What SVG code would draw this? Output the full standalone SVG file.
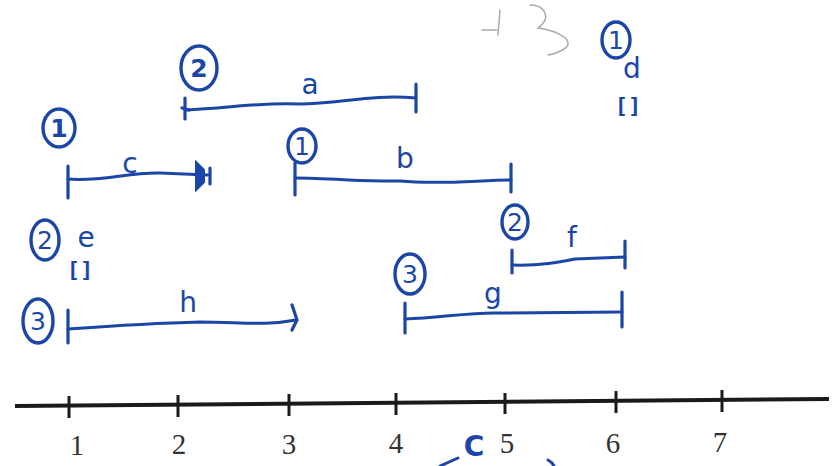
<svg xmlns="http://www.w3.org/2000/svg" width="833" height="466" viewBox="0 0 833 466">
<style>
.ink{fill:none;stroke:#1b45a6;stroke-width:3;stroke-linecap:round;stroke-linejoin:round}
.tk{fill:none;stroke:#1b45a6;stroke-width:3.2;stroke-linecap:round}
.circ{fill:none;stroke:#1b45a6;stroke-width:3.4}
.num{font-family:"DejaVu Sans",sans-serif;font-size:25px;fill:#1b45a6;text-anchor:middle}
.lbl{font-family:"DejaVu Sans",sans-serif;font-size:28px;fill:#1b45a6;text-anchor:middle}
.br{font-family:"DejaVu Sans Mono",monospace;font-size:22px;font-weight:bold;fill:#1b45a6;text-anchor:middle}
.ax{font-family:"Liberation Serif",serif;font-size:29px;fill:#333;text-anchor:middle}
.axis{fill:none;stroke:#1a1a1a;stroke-width:4}
.axt{fill:none;stroke:#1a1a1a;stroke-width:3}
.faint{fill:none;stroke:#aaa;stroke-width:1.5;stroke-linecap:round}
</style>
<rect width="833" height="466" fill="#fff"/>
<g id="scribble">
<path class="faint" d="M500,10 L498,35 M482,30 L497,30"/>
<path class="faint" d="M530,5 C545,5 552,18 538,28 C555,30 570,38 568,45 C565,50 555,54 548,55"/>
</g>
<g id="axis">
<path class="axis" d="M15,406 L829,399"/>
<path class="axt" d="M69,396 V418 M178,395 V417 M289,394 V416 M396,393 V415 M505,393 V414 M616,391 V413 M722,390 V412"/>
<text class="ax" x="77" y="455">1</text>
<text class="ax" x="179" y="454">2</text>
<text class="ax" x="289" y="454">3</text>
<text class="ax" x="396" y="453">4</text>
<text class="ax" x="507" y="453">5</text>
<text class="ax" x="613" y="453">6</text>
<text class="ax" x="720" y="452">7</text>
</g>
<g id="connectors">
<path class="ink" d="M185,110 C230,108 260,102 300,104 C340,104 370,94 416,98"/>
<path class="tk" d="M185,98 V119 M182,108 L189,110 M416,84 V112"/>
<path class="ink" d="M68,179 C100,182 130,172 160,173 L208,175"/>
<path class="tk" d="M68,166 V198 M210,168 V184"/>
<path d="M196,162 L204,170 L204,182 L196,190 Z" fill="#1b45a6" stroke="#1b45a6" stroke-width="2"/>
<path class="ink" d="M295,178 C330,178 370,182 400,181 C440,185 480,180 511,180"/>
<path class="tk" d="M295,163 V195 M511,164 V192"/>
<path class="ink" d="M512,265 C540,266 560,262 575,259 L625,257"/>
<path class="tk" d="M512,250 V273 M625,241 V268"/>
<path class="ink" d="M405,319 C440,318 470,312 500,313 L622,312"/>
<path class="tk" d="M405,303 V333 M622,292 V327"/>
<path class="ink" d="M68,329 C110,326 160,323 200,322 C240,322 265,326 296,320"/>
<path class="tk" d="M68,310 V343 M292,305 L297,320 L292,330"/>
</g>
<g id="node-a">
<ellipse class="circ" cx="199" cy="68" rx="18" ry="22"/>
<text class="num" x="199" y="77" font-weight="bold">2</text>
<text class="lbl" x="310" y="94">a</text>
</g>
<g id="node-c">
<ellipse class="circ" cx="59" cy="128" rx="16" ry="19"/>
<text class="num" x="59" y="137" font-weight="bold">1</text>
<text class="lbl" x="130" y="173">c</text>
</g>
<g id="node-b">
<ellipse class="circ" cx="302" cy="146" rx="14" ry="17"/>
<text class="num" x="302" y="155">1</text>
<text class="lbl" x="405" y="168">b</text>
</g>
<g id="node-d">
<ellipse class="circ" cx="616" cy="40" rx="14" ry="18"/>
<text class="num" x="616" y="49">1</text>
<text class="lbl" x="632" y="78">d</text>
<text class="br" x="628" y="113">[]</text>
</g>
<g id="node-e">
<ellipse class="circ" cx="45" cy="240" rx="14" ry="20"/>
<text class="num" x="45" y="249">2</text>
<text class="lbl" x="86" y="247">e</text>
<text class="br" x="80" y="277">[]</text>
</g>
<g id="node-f">
<ellipse class="circ" cx="515" cy="222" rx="13" ry="17"/>
<text class="num" x="515" y="231">2</text>
<text class="lbl" x="572" y="247">f</text>
</g>
<g id="node-g">
<ellipse class="circ" cx="410" cy="274" rx="15" ry="20"/>
<text class="num" x="410" y="283">3</text>
<text class="lbl" x="493" y="303">g</text>
</g>
<g id="node-h">
<ellipse class="circ" cx="38" cy="321" rx="15" ry="22"/>
<text class="num" x="38" y="330">3</text>
<text class="lbl" x="188" y="312">h</text>
</g>
<g id="bottom-mark">
<text class="lbl" x="474" y="456" font-size="28" font-weight="bold">C</text>
<path class="ink" d="M440,466 L458,458"/>
<path class="ink" d="M548,460 C552,462 553,464 554,466"/>
</g>
</svg>
